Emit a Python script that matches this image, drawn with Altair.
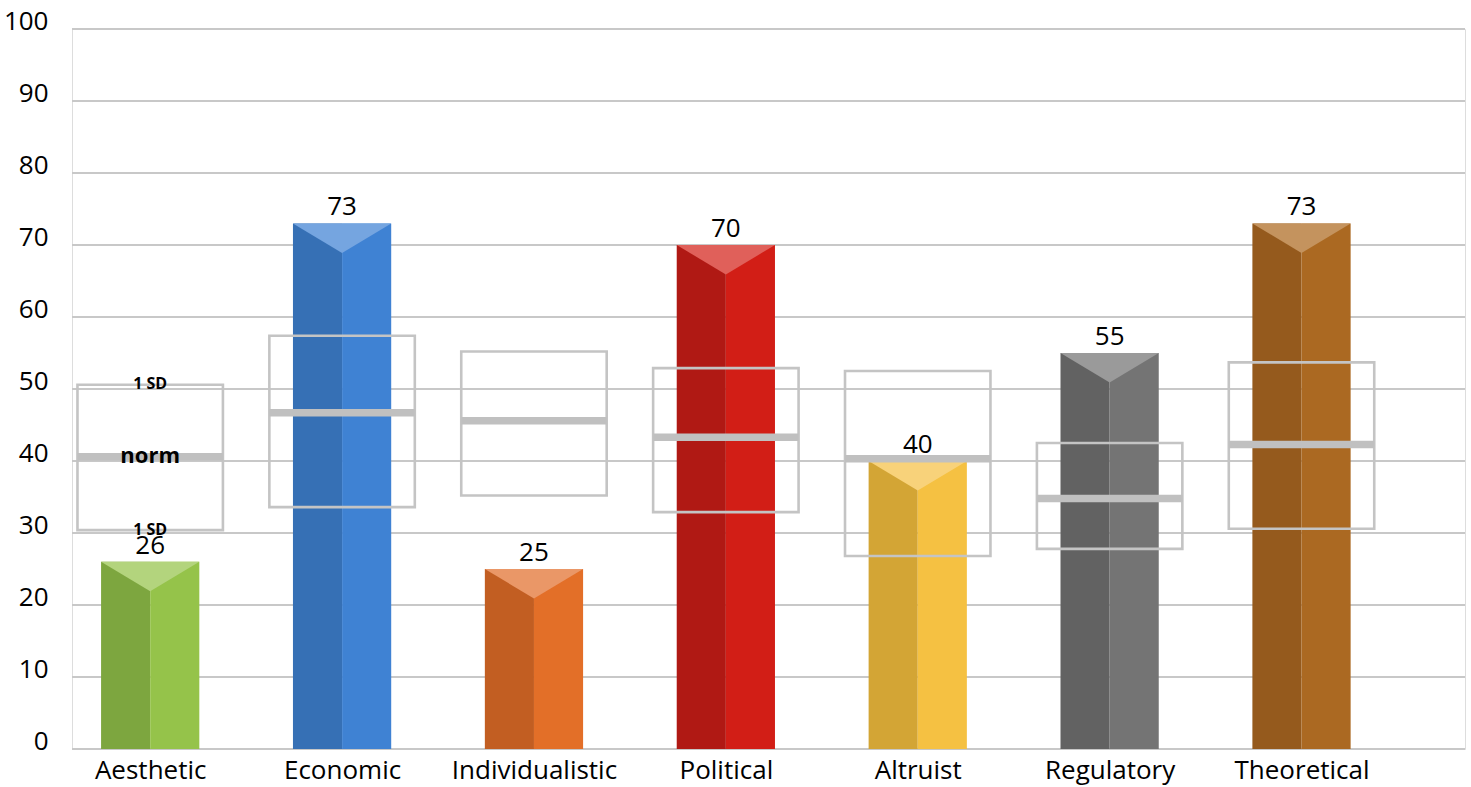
import json
import altair as alt
import pandas as pd

# ---- data ----
categories = ["Aesthetic", "Economic", "Individualistic", "Political",
              "Altruist", "Regulatory", "Theoretical"]
scores = [26, 73, 25, 70, 40, 55, 73]
norm_values = [40.6, 46.7, 45.6, 43.3, 40.3, 34.8, 42.3]
sd_upper = [50.6, 57.4, 55.2, 52.9, 52.5, 42.5, 53.7]
sd_lower = [30.4, 33.6, 35.2, 32.9, 26.8, 27.8, 30.6]
y_ticks = [0, 10, 20, 30, 40, 50, 60, 70, 80, 90, 100]

dark_colors = ["#7DA63F", "#3670B5", "#C25E22", "#B01914",
               "#D3A535", "#626262", "#955A1D"]
light_colors = ["#95C34A", "#3F82D3", "#E36F28", "#D21E16",
                "#F5C142", "#747474", "#AB6922"]
top_colors = ["#B3D47D", "#75A5E0", "#EA9767", "#E0605A",
              "#F8D27A", "#9A9A9A", "#C4935E"]

# ---- styling constants ----
FONT = "Open Sans"
PLOT_W, PLOT_H = 1393, 720
HALF_BAR = 0.256      # half bar width in category units
HALF_BOX = 0.379      # half norm-box width in category units
BAR_PX = 98.3         # bar width in pixels (for the top facet symbol)
FACET_SHAPE = "M -1 0 L 1 0 L 0 0.6 Z"   # downward-pointing top facet
GRID = "#C8C8C8"
BOX = "#C4C4C4"

df = pd.DataFrame({
    "cat": categories,
    "idx": list(range(len(categories))),
    "score": scores,
    "norm": norm_values,
    "hi": sd_upper,
    "lo": sd_lower,
    "dark": dark_colors,
    "light": light_colors,
    "top": top_colors,
})
grid_df = pd.DataFrame({"tick": y_ticks})

xscale = alt.Scale(domain=[-0.4075, 6.852], nice=False, zero=False)
yscale = alt.Scale(domain=[0, 100], nice=False)

label_expr = json.dumps(categories) + "[datum.value]"
xaxis = alt.Axis(values=list(range(len(categories))), labelExpr=label_expr,
                 title=None, domain=False, ticks=False, grid=False,
                 labelPadding=8, labelFontSize=26, labelFont=FONT,
                 labelColor="#000000")
yaxis = alt.Axis(values=y_ticks, title=None, domain=False,
                 ticks=False, grid=False,
                 labelPadding=24, labelFontSize=26, labelFont=FONT,
                 labelColor="#000000", labelBaseline="alphabetic")

base = alt.Chart(df)


def X(field):
    return alt.X(field, scale=xscale, axis=xaxis)


def Y(field):
    return alt.Y(field, scale=yscale, axis=yaxis)


gridlines = alt.Chart(grid_df).mark_rule(color=GRID, strokeWidth=2).encode(
    y=Y("tick:Q"), x=alt.value(0), x2=alt.value(PLOT_W),
)

left = base.transform_calculate(
    xl=f"datum.idx - {HALF_BAR}", xc="datum.idx", y0="0"
).mark_rect().encode(
    x=X("xl:Q"), x2="xc:Q", y=Y("y0:Q"), y2="score:Q",
    color=alt.Color("dark:N", scale=None),
)

right = base.transform_calculate(
    xr=f"datum.idx + {HALF_BAR}", xc="datum.idx", y0="0"
).mark_rect().encode(
    x=X("xc:Q"), x2="xr:Q", y=Y("y0:Q"), y2="score:Q",
    color=alt.Color("light:N", scale=None),
)

facet = base.mark_point(
    shape=FACET_SHAPE, filled=True, opacity=1, strokeWidth=0
).encode(
    x=X("idx:Q"), y=Y("score:Q"),
    color=alt.Color("top:N", scale=None),
    size=alt.value(BAR_PX * BAR_PX),
)

boxes = base.transform_calculate(
    bl=f"datum.idx - {HALF_BOX}", br=f"datum.idx + {HALF_BOX}"
).mark_rect(fillOpacity=0, stroke=BOX, strokeWidth=2.6).encode(
    x=X("bl:Q"), x2="br:Q", y=Y("lo:Q"), y2="hi:Q",
)

norm_line = base.transform_calculate(
    bl=f"datum.idx - {HALF_BOX}", br=f"datum.idx + {HALF_BOX}"
).mark_rule(color="#C0C0C0", strokeWidth=7.5).encode(
    x=X("bl:Q"), x2="br:Q", y=Y("norm:Q"),
)

value_labels = base.mark_text(
    font=FONT, fontSize=26, color="#000000", baseline="alphabetic", dy=-8
).encode(
    x=X("idx:Q"), y=Y("score:Q"), text="score:Q",
)

first = base.transform_filter("datum.idx == 0")
sd_hi_text = first.mark_text(
    font=FONT, fontSize=16, fontWeight="bold", color="#000000",
    baseline="middle", dy=-1
).encode(x=X("idx:Q"), y=Y("hi:Q"), text=alt.value("1 SD"))
sd_lo_text = first.mark_text(
    font=FONT, fontSize=16, fontWeight="bold", color="#000000",
    baseline="middle", dy=0
).encode(x=X("idx:Q"), y=Y("lo:Q"), text=alt.value("1 SD"))
norm_text = first.mark_text(
    font=FONT, fontSize=22, fontWeight="bold", color="#000000",
    baseline="middle", dy=-1
).encode(x=X("idx:Q"), y=Y("norm:Q"), text=alt.value("norm"))

chart = alt.layer(
    gridlines, left, right, facet, boxes, norm_line, value_labels,
    sd_hi_text, sd_lo_text, norm_text
).properties(
    width=PLOT_W, height=PLOT_H,
    autosize=alt.AutoSizeParams(type="none"),
    padding={"left": 72, "top": 29, "right": 6, "bottom": 38},
).configure_view(
    stroke="transparent", strokeWidth=0
).configure_axis(
    domain=False, ticks=False, grid=False
).configure(background="#FFFFFF")

chart.save("out.html", embed_options={"renderer": "svg", "actions": False})
